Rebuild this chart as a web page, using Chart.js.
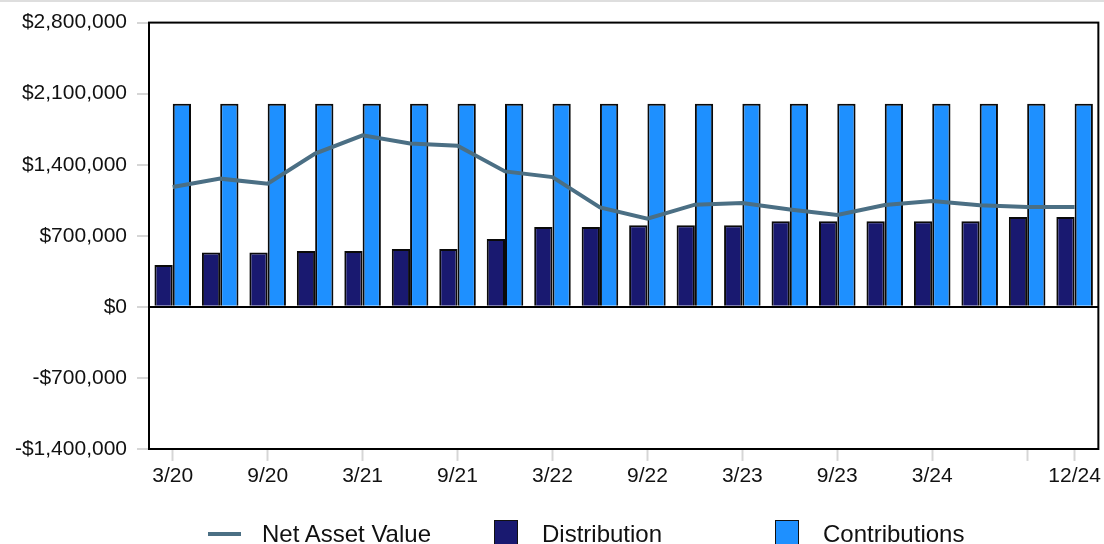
<!DOCTYPE html>
<html lang="en">
<head>
    <meta charset="UTF-8">
    <title>Net Asset Value, Distribution and Contributions</title>
    <script src="https://cdn.jsdelivr.net/npm/chart.js@4.4.1/dist/chart.umd.min.js"></script>
    <style>
        body { margin: 0; overflow: hidden; background: #fff; font-family: "Liberation Sans", Arial, sans-serif; }
        #wrap { position: relative; width: 1104px; height: 544px; }
        #topRule { position: absolute; left: 0; top: 0; width: 1104px; height: 2px; background: #dedede; }
        #legend { position: absolute; left: 208px; top: 520px; display: flex; color: #111; font-size: 24px; line-height: 27px; white-space: nowrap; }
        .item { display: flex; align-items: flex-start; }
        .item.nav { width: 286px; }
        .item.dist { width: 281px; }
        .swLine { width: 33px; height: 4px; margin-top: 12px; margin-right: 21px; }
        .swBox { width: 22px; height: 24px; border: 1.5px solid #111; margin-right: 24px; box-sizing: content-box; }
    </style>
</head>
<body>
<div id="wrap">
    <canvas id="myChart"></canvas>
    <div id="topRule"></div>
    <div id="legend"></div>
</div>
<script>
    const quarters = ['3/20','6/20','9/20','12/20','3/21','6/21','9/21','12/21','3/22','6/22',
                      '9/22','12/22','3/23','6/23','9/23','12/23','3/24','6/24','9/24','12/24'];
    const netAssetValue = [1180000,1263000,1213000,1510000,1690000,1610000,1587000,1334000,1278000,980000,
                           869000,1007000,1023000,960000,905000,1003000,1042000,1000000,983000,983000];
    const distribution = [413000,535000,535000,551000,551000,570000,570000,669000,787000,787000,
                          803000,803000,803000,843000,843000,843000,843000,843000,885000,885000];
    const contributions = [2000000,2000000,2000000,2000000,2000000,2000000,2000000,2000000,2000000,2000000,
                           2000000,2000000,2000000,2000000,2000000,2000000,2000000,2000000,2000000,2000000];
    // x labels that get printed, plus 9/24 which only gets a tick mark
    const labelledQuarters = ['3/20','9/20','3/21','9/21','3/22','9/22','3/23','9/23','3/24','12/24'];
    const tickOnlyQuarters = ['9/24'];
    const yMin = -1400000, yMax = 2800000, yStep = 700000;

    const colors = { nav: '#4b6f84', dist: '#191970', contrib: '#1e90ff' };
    const FONT = '"Liberation Sans", Arial, sans-serif';

    function money(v) {
        const s = '$' + Math.abs(v).toLocaleString('en-US');
        return v < 0 ? '-' + s : s;
    }

    // black box round the plot area
    const frame = {
        id: 'frame',
        afterDatasetsDraw(chart) {
            const a = chart.chartArea, c = chart.ctx;
            c.save();
            c.strokeStyle = '#000';
            c.lineWidth = 2;
            c.strokeRect(a.left, a.top, a.right - a.left, a.bottom - a.top);
            c.restore();
        }
    };

    const ctx = document.getElementById('myChart').getContext('2d');
    const myChart = new Chart(ctx, {
        type: 'bar',
        data: {
            labels: quarters,
            datasets: [
                {
                    type: 'line',
                    label: 'Net Asset Value',
                    data: netAssetValue,
                    borderColor: colors.nav,
                    backgroundColor: colors.nav,
                    borderWidth: 4,
                    pointRadius: 0,
                    tension: 0,
                    fill: false
                },
                {
                    label: 'Distribution',
                    data: distribution,
                    backgroundColor: colors.dist,
                    borderColor: '#0a0a0a',
                    borderWidth: 2,
                    categoryPercentage: 0.77,
                    barPercentage: 1.0
                },
                {
                    label: 'Contributions',
                    data: contributions,
                    backgroundColor: colors.contrib,
                    borderColor: '#0a0a0a',
                    borderWidth: 2,
                    categoryPercentage: 0.77,
                    barPercentage: 1.0
                }
            ]
        },
        options: {
            responsive: true,
            maintainAspectRatio: false,
            animation: false,
            layout: { padding: { left: 0, right: 4, top: 20, bottom: 0 } },
            plugins: {
                legend: { display: false },
                tooltip: { enabled: false }
            },
            scales: {
                x: {
                    offset: true,
                    border: { display: true, color: '#000', width: 2 },
                    grid: {
                        offset: false,
                        drawOnChartArea: false,
                        tickLength: 12,
                        tickWidth: 2,
                        tickColor: c => {
                            const q = quarters[c.index];
                            return (labelledQuarters.includes(q) || tickOnlyQuarters.includes(q)) ? '#d6d6d6' : 'rgba(0,0,0,0)';
                        }
                    },
                    ticks: {
                        autoSkip: false,
                        maxRotation: 0,
                        padding: 3,
                        color: '#111',
                        font: { family: FONT, size: 21 },
                        callback: function (v, i) {
                            const q = quarters[i];
                            return labelledQuarters.includes(q) ? q : '';
                        }
                    },
                    afterFit: s => { s.height = 95; }
                },
                y: {
                    min: yMin,
                    max: yMax,
                    border: { display: true, color: '#000', width: 2 },
                    grid: {
                        color: c => c.tick && c.tick.value === 0 ? '#000' : 'rgba(0,0,0,0)',
                        lineWidth: 2,
                        tickLength: 12,
                        tickWidth: 2,
                        tickColor: '#d6d6d6'
                    },
                    ticks: {
                        stepSize: yStep,
                        padding: 10,
                        color: '#111',
                        font: { family: FONT, size: 21 },
                        callback: v => money(v)
                    },
                    afterFit: s => { s.width = 149; }
                }
            }
        },
        plugins: [frame]
    });

    // legend built from the chart's datasets
    const legend = document.getElementById('legend');
    const cls = ['nav', 'dist', 'contrib'];
    myChart.data.datasets.forEach((ds, i) => {
        const item = document.createElement('div');
        item.className = 'item ' + cls[i];
        const sw = document.createElement('span');
        if (ds.type === 'line') {
            sw.className = 'swLine';
            sw.style.background = ds.borderColor;
        } else {
            sw.className = 'swBox';
            sw.style.background = ds.backgroundColor;
        }
        const txt = document.createElement('span');
        txt.textContent = ds.label;
        item.appendChild(sw);
        item.appendChild(txt);
        legend.appendChild(item);
    });
</script>
</body>
</html>
